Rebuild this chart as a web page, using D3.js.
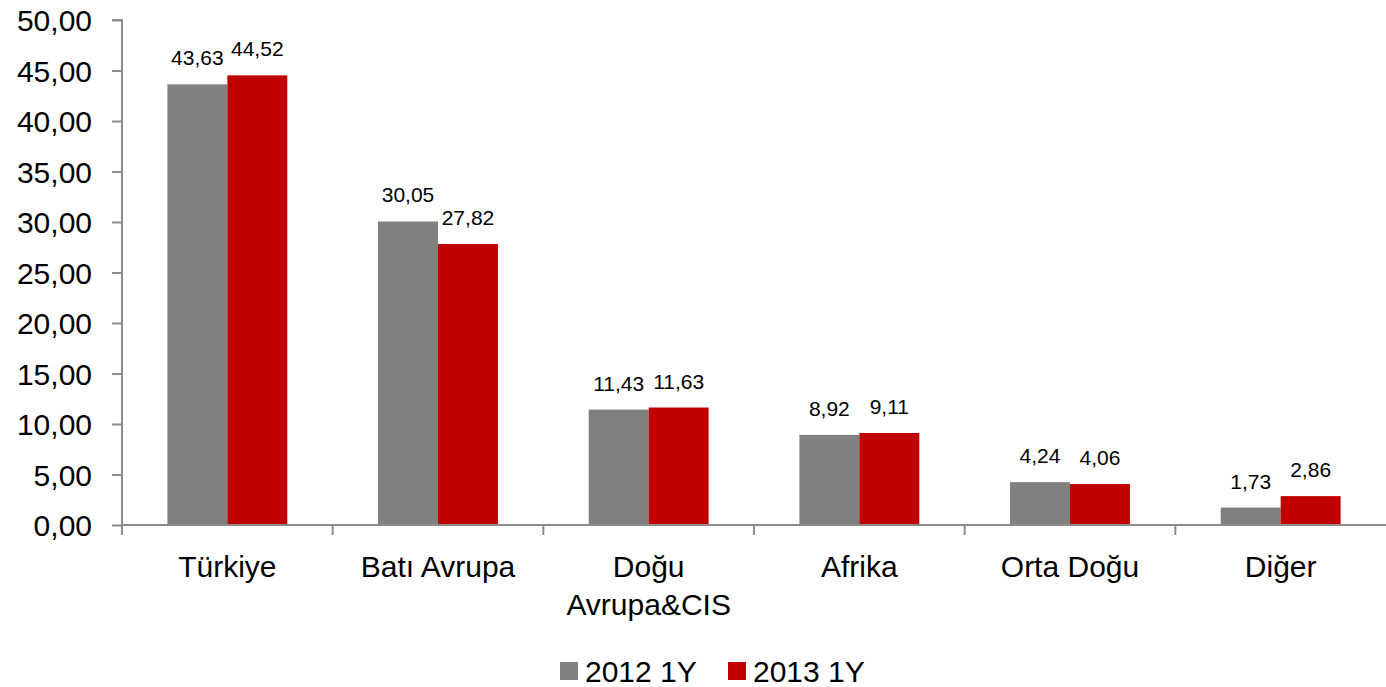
<!DOCTYPE html>
<html>
<head>
<meta charset="UTF-8">
<script src="https://d3js.org/d3.v7.min.js"></script>
<style>
    body { margin: 0; background: #fff; }
    svg { font-family: "Liberation Sans", Arial, sans-serif; }
    .axis path, .axis line { stroke: #8c8c8c; stroke-width: 2; }
</style>
</head>
<body>
<svg id="chart" width="1386" height="687"></svg>
<script>
    // data
    var categories = ['Türkiye', 'Batı Avrupa', 'Doğu\nAvrupa&CIS', 'Afrika', 'Orta Doğu', 'Diğer']
    var series = ['2012 1Y', '2013 1Y']
    var values2012 = [43.63, 30.05, 11.43, 8.92, 4.24, 1.73]
    var values2013 = [44.52, 27.82, 11.63, 9.11, 4.06, 2.86]
    var yTicks = [0, 5, 10, 15, 20, 25, 30, 35, 40, 45, 50]
    var colors = ['#808080', '#c00000']

    var svg = d3.select('#chart')
    var plotLeft = 122, plotRight = 1386, plotTop = 20, plotBottom = 525

    var fmt = function (v) { return d3.format('.2f')(v).replace('.', ',') }

    var x0 = d3.scaleBand().domain(categories).range([plotLeft, plotRight])
    var x1 = d3.scaleBand().domain(series).range([0, x0.bandwidth()]).paddingOuter(0.757)
    var y = d3.scaleLinear().domain([0, 50]).range([plotBottom, plotTop])

    // y axis
    var yAxis = svg.append('g').attr('class', 'axis')
        .attr('transform', 'translate(' + plotLeft + ',0)')
        .call(d3.axisLeft(y).tickValues(yTicks).tickSize(10).tickSizeOuter(10).tickFormat(fmt))
    yAxis.selectAll('text').attr('font-size', 30).attr('fill', '#000').attr('x', -30).attr('dy', '0.36em')
    yAxis.select('path').attr('d', 'M-10,' + plotTop + 'H0V' + (plotBottom + 10))

    var rows = categories.map(function (c, i) {
        return [{ s: series[0], v: values2012[i] }, { s: series[1], v: values2013[i] }]
    })

    var groups = svg.selectAll('.grp').data(rows).enter().append('g')
        .attr('transform', function (d, i) { return 'translate(' + x0(categories[i]) + ',0)' })

    groups.selectAll('rect').data(function (d) { return d }).enter().append('rect')
        .attr('x', function (d) { return x1(d.s) })
        .attr('width', x1.bandwidth())
        .attr('y', function (d) { return y(d.v) })
        .attr('height', function (d) { return plotBottom - y(d.v) })
        .attr('fill', function (d, i) { return colors[i] })

    groups.selectAll('.lbl').data(function (d) { return d }).enter().append('text')
        .attr('x', function (d) { return x1(d.s) + x1.bandwidth() / 2 })
        .attr('y', function (d) { return y(d.v) - 19 })
        .attr('text-anchor', 'middle').attr('font-size', 21)
        .text(function (d) { return fmt(d.v) })

    // x axis with ticks on category boundaries, drawn over the bars
    var xAxis = svg.append('g').attr('class', 'axis')
    xAxis.append('line').attr('x1', plotLeft).attr('x2', plotRight).attr('y1', plotBottom).attr('y2', plotBottom)
    xAxis.selectAll('.sep').data(categories.slice(1)).enter().append('line')
        .attr('x1', function (d) { return x0(d) }).attr('x2', function (d) { return x0(d) })
        .attr('y1', plotBottom).attr('y2', plotBottom + 10)

    // category labels
    svg.selectAll('.cat').data(categories).enter().append('text')
        .attr('text-anchor', 'middle').attr('font-size', 30)
        .attr('transform', function (d) { return 'translate(' + (x0(d) + x0.bandwidth() / 2) + ',577)' })
        .each(function (d) {
            var t = d3.select(this)
            d.split('\n').forEach(function (line, i) {
                t.append('tspan').attr('x', 0).attr('y', i * 38).text(line)
            })
        })

    // legend
    var legX = [560, 728]
    series.forEach(function (s, i) {
        svg.append('rect').attr('x', legX[i]).attr('y', 662).attr('width', 18).attr('height', 18).attr('fill', colors[i])
        svg.append('text').attr('x', legX[i] + 25).attr('y', 682).attr('font-size', 30).text(s)
    })
</script>
</body>
</html>
